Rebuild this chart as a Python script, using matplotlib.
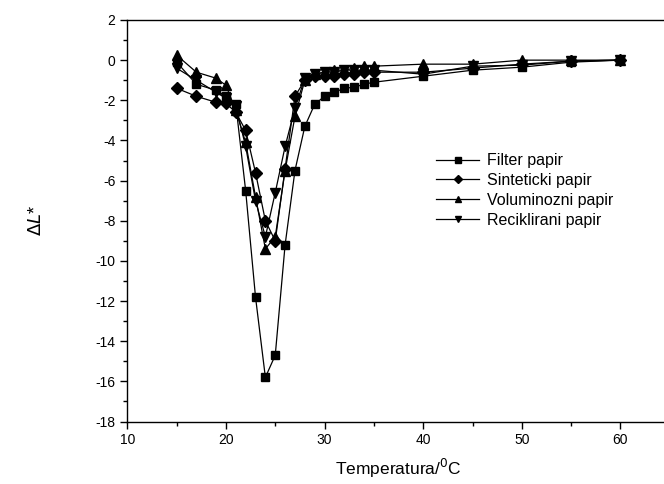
import numpy as np
import matplotlib
matplotlib.use("Agg")
import matplotlib.pyplot as plt
from matplotlib.ticker import MultipleLocator

plt.rcParams['font.family'] = ['Liberation Sans', 'DejaVu Sans']
plt.rcParams['axes.unicode_minus'] = False

temp = [15, 17, 19, 20, 21, 22, 23, 24, 25, 26, 27, 28, 29, 30, 31, 32, 33, 34, 35, 40, 45, 50, 55, 60]

filter_papir = [-0.1, -1.2, -1.5, -1.8, -2.2, -6.5, -11.8, -15.8, -14.7, -9.2, -5.5, -3.3,
                -2.2, -1.8, -1.6, -1.4, -1.35, -1.2, -1.1, -0.8, -0.5, -0.35, -0.1, 0.0]
sinteticki = [-1.4, -1.8, -2.1, -2.15, -2.6, -3.5, -5.6, -8.0, -9.0, -5.4, -1.8, -1.0,
              -0.8, -0.8, -0.8, -0.7, -0.7, -0.6, -0.6, -0.6, -0.4, -0.2, -0.05, 0.0]
voluminozni = [0.25, -0.6, -0.9, -1.25, -2.5, -4.1, -6.8, -9.4, -8.8, -5.5, -2.8, -1.0,
               -0.7, -0.6, -0.5, -0.5, -0.4, -0.3, -0.3, -0.2, -0.2, 0.0, 0.0, 0.0]
reciklirani = [-0.4, -1.0, -1.6, -1.9, -2.3, -4.3, -7.0, -8.8, -6.6, -4.3, -2.4, -0.9,
               -0.7, -0.6, -0.6, -0.5, -0.5, -0.5, -0.5, -0.7, -0.3, -0.25, -0.05, 0.0]

series = [
    ("Filter papir", filter_papir, "s"),
    ("Sinteticki papir", sinteticki, "D"),
    ("Voluminozni papir", voluminozni, "^"),
    ("Reciklirani papir", reciklirani, "v"),
]

fig = plt.figure(figsize=(6.64, 4.84), dpi=100)
ax = fig.add_axes([0.1917, 0.1291, 0.817, 0.8296])

for name, vals, m in series:
    ms = 6 if m in ("D", "s") else 7
    ax.plot(temp, vals, color="black", lw=0.9, marker=m, ms=ms, mfc="black", mec="black", label=name)

ax.set_xlim(10, 65)
ax.set_ylim(-18, 2)
ax.xaxis.set_major_locator(MultipleLocator(10))
ax.xaxis.set_minor_locator(MultipleLocator(5))
ax.yaxis.set_major_locator(MultipleLocator(2))
ax.yaxis.set_minor_locator(MultipleLocator(1))
ax.tick_params(which="major", direction="out", length=5, width=1, labelsize=10, top=False, right=False)
ax.tick_params(which="minor", direction="out", length=3, width=1, top=False, right=False)
for sp in ax.spines.values():
    sp.set_linewidth(1)

ax.set_xlabel("Temperatura/$^{0}$C", fontsize=12.5, labelpad=7)
ax.set_ylabel(r"$\Delta\mathit{L}$*", fontsize=13, labelpad=36)

ax.legend(loc="upper left", bbox_to_anchor=(0.645, 0.7), bbox_transform=fig.transFigure,
          frameon=False, fontsize=11.5, markerscale=0.65, handlelength=2.7,
          labelspacing=0.3, handletextpad=0.5, borderpad=0)

fig.savefig("out.png", dpi=100)
